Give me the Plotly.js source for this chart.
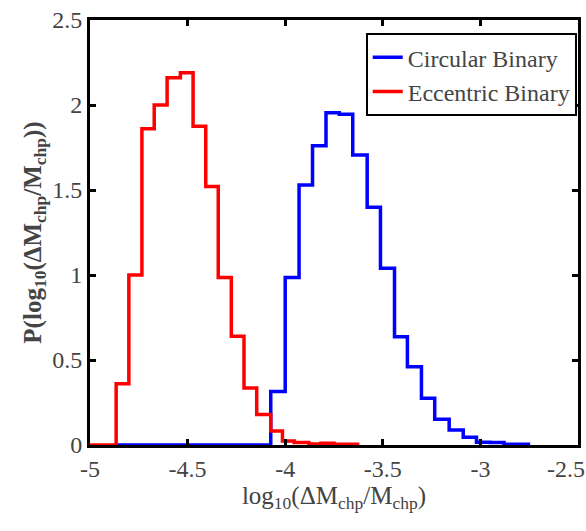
<!DOCTYPE html>
<html>
<head>
<meta charset="utf-8">
<script src="https://cdn.plot.ly/plotly-3.0.1.min.js"></script>
<style>html,body{margin:0;padding:0;background:#fff;}#chart{width:586px;height:531px;}</style>
</head>
<body>
<div id="chart"></div>
<script>
// Bin left edges (last entry = right edge of final bin) and step heights
var circularEdges = [-4.866, -4.074, -4.0, -3.929, -3.86, -3.791, -3.723, -3.654, -3.58, -3.512, -3.44, -3.374, -3.302, -3.234, -3.16, -3.088, -3.02, -2.951, -2.879, -2.745];
var circularValues = [0, 0.314, 0.986, 1.53, 1.76, 1.955, 1.945, 1.706, 1.398, 1.039, 0.637, 0.461, 0.275, 0.151, 0.088, 0.045, 0.016, 0.014, 0.005, 0.005];

var eccentricEdges = [-5, -4.866, -4.801, -4.734, -4.671, -4.605, -4.537, -4.472, -4.407, -4.343, -4.276, -4.211, -4.146, -4.074, -4.014, -3.954, -3.879, -3.817, -3.75, -3.68, -3.62];
var eccentricValues = [0, 0.36, 1.0, 1.86, 2.0, 2.16, 2.19, 1.875, 1.52, 0.985, 0.64, 0.335, 0.18, 0.082, 0.024, 0.014, 0.006, 0.01, 0.005, 0.004, 0.004];

var seriesNames = ["Circular Binary", "Eccentric Binary"];
var xTickVals = [-5, -4.5, -4, -3.5, -3, -2.5];
var xTickText = ["-5", "-4.5", "-4", "-3.5", "-3", "-2.5\u00A0\u00A0\u00A0\u00A0"];
var yTickVals = [0, 0.5, 1, 1.5, 2, 2.5];
var yTickText = ["0", "0.5", "1", "1.5", "2", "2.5"];

var fam = "Liberation Serif";

var traces = [
  {x: circularEdges, y: circularValues, type: "scatter", mode: "lines", name: seriesNames[0],
   line: {shape: "hv", color: "#0000ff", width: 3.5}},
  {x: eccentricEdges, y: eccentricValues, type: "scatter", mode: "lines", name: seriesNames[1],
   line: {shape: "hv", color: "#ff0000", width: 3.5}}
];

var layout = {
  width: 586, height: 531,
  font: {family: fam, size: 24},
  margin: {l: 90, r: 8, t: 20, b: 86, autoexpand: false},
  showlegend: true,
  legend: {x: 0.565, y: 0.969, xanchor: "left", yanchor: "top",
    bordercolor: "black", borderwidth: 2, bgcolor: "white",
    font: {family: fam, size: 24}},
  xaxis: {range: [-5, -2.5], tickvals: xTickVals, ticktext: xTickText,
    tickfont: {family: fam, size: 24},
    showline: true, linecolor: "black", linewidth: 3, mirror: "ticks",
    ticks: "inside", ticklen: 6, tickwidth: 2.5, tickcolor: "black",
    showgrid: false, zeroline: false, ticklabeloverflow: "allow",
    title: {text: "log<sub>10</sub>(ΔM<sub>chp</sub>/M<sub>chp</sub>)", font: {family: fam, size: 25}, standoff: 6}},
  yaxis: {range: [0, 2.5], tickvals: yTickVals, ticktext: yTickText,
    tickfont: {family: fam, size: 24},
    showline: true, linecolor: "black", linewidth: 3, mirror: "ticks",
    ticks: "inside", ticklen: 6, tickwidth: 2.5, tickcolor: "black",
    showgrid: false, zeroline: false,
    title: {text: "<b>P(log<sub>10</sub>(ΔM<sub>chp</sub>/M<sub>chp</sub>))</b>", font: {family: fam, size: 25}, standoff: 4}}
};

Plotly.newPlot("chart", traces, layout, {displayModeBar: false});
</script>
</body>
</html>
